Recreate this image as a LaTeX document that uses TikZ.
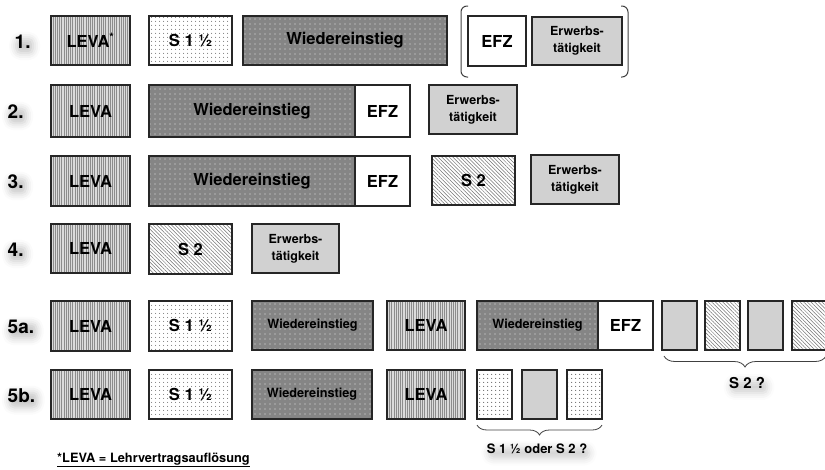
\documentclass[tikz,border=0pt]{standalone}
\usepackage{fontspec}
\setmainfont{TeX Gyre Heros}
\usetikzlibrary{patterns.meta,shadows.blur,decorations.pathreplacing}
\newcommand\bx[7]{%
 \pgfmathsetmacro\bw{#4-#2}\pgfmathsetmacro\bh{#5-#3}%
 \pgfmathsetmacro\bcx{(#2+#4)/2}\pgfmathsetmacro\bcy{(#3+#5)/2}%
 \node[#6,minimum width=\bw pt,minimum height=\bh pt] (#1) at (\bcx,\bcy) {#7};}
\begin{document}
\begin{tikzpicture}[x=1pt,y=-1pt,
  box/.style={draw=black!85,line width=1.1pt,inner sep=0pt,align=center},
  big/.style={font=\fontsize{16.5}{18}\selectfont\bfseries},
  mid/.style={font=\fontsize{12.7}{15}\selectfont\bfseries},
  erwfont/.style={font=\fontsize{12.5}{17}\selectfont\bfseries},
  leva/.style={box,big,preaction={fill=black!14},pattern={Lines[angle=90,distance=2.2pt,line width=0.55pt]},pattern color=black!45},
  dotbox/.style={box,big,preaction={fill=white},pattern={Dots[distance=4pt,radius=0.6pt]},pattern color=black!80},
  wieder/.style={box,preaction={fill=black!48},pattern={Dots[distance=5pt,radius=0.7pt]},pattern color=black!10},
  hatch/.style={box,big,preaction={fill=white},pattern={Lines[angle=-45,distance=2.6pt,line width=0.5pt]},pattern color=black!55},
  plain/.style={box,big,fill=white},
  erw/.style={box,erwfont,fill=black!18},
  rowlab/.style={font=\fontsize{19}{20}\selectfont\bfseries,inner sep=0.5pt,anchor=west,rounded corners=5pt,
     blur shadow={shadow xshift=2pt,shadow yshift=-4pt,shadow blur radius=7pt,shadow opacity=22}},
  qlab/.style={font=\fontsize{15}{17}\selectfont\bfseries,inner sep=0.5pt,rounded corners=5pt,
     blur shadow={shadow xshift=2pt,shadow yshift=-4pt,shadow blur radius=7pt,shadow opacity=18}},
  bracefig/.style={draw=black!75,line width=0.8pt,decorate,decoration={brace,mirror,amplitude=11pt}},
  brk/.style={draw=black!75,line width=1pt,rounded corners=6pt}
]
\useasboundingbox (0,0) rectangle (825,469);
\clip (0,0) rectangle (825,469);

% row labels
\node[rowlab] (n1) at (14,42) {1.};
\node[rowlab] (n2) at (7,112) {2.};
\node[rowlab] (n3) at (7,182) {3.};
\node[rowlab] (n4) at (7,250) {4.};
\node[rowlab] (n5a) at (7,327) {5a.};
\node[rowlab] (n5b) at (7,396) {5b.};

% row 1
\bx{l1}{51}{16}{130}{65}{leva}{LEVA\textsuperscript{*}}
\bx{s1}{149}{16}{232}{65}{dotbox}{S 1 ½}
\bx{w1}{243}{16}{447}{65}{wieder,big}{Wiedereinstieg}
\bx{e1}{468}{16}{526}{66}{plain}{EFZ}
\bx{t1}{532}{17}{622}{65}{erw}{Erwerbs-\\tätigkeit}
\draw[brk] (468,6) -- (461,6) -- (461,77) -- (468,77);
\draw[brk] (621,6) -- (628,6) -- (628,77) -- (621,77);

% row 2
\bx{l2}{51}{85}{130}{137}{leva}{LEVA}
\bx{w2}{149}{85}{355}{137}{wieder,big}{Wiedereinstieg}
\bx{e2}{355}{85}{410}{137}{plain}{EFZ}
\bx{t2}{429}{85}{517}{134}{erw}{Erwerbs-\\tätigkeit}

% row 3
\bx{l3}{51}{156}{130}{206}{leva}{LEVA}
\bx{w3}{149}{156}{355}{206}{wieder,big}{Wiedereinstieg}
\bx{e3}{355}{156}{410}{206}{plain}{EFZ}
\bx{s3}{432}{156}{515}{205}{hatch}{S 2}
\bx{t3}{531}{155}{619}{204}{erw}{Erwerbs-\\tätigkeit}

% row 4
\bx{l4}{51}{224}{130}{273}{leva}{LEVA}
\bx{s4}{149}{224}{232}{274}{hatch}{S 2}
\bx{t4}{252}{224}{339}{273}{erw}{Erwerbs-\\tätigkeit}

% row 5a
\bx{l5}{51}{301}{130}{351}{leva}{LEVA}
\bx{s5}{149}{301}{232}{351}{dotbox}{S 1 ½}
\bx{w5}{252}{301}{373}{350}{wieder,mid}{Wiedereinstieg}
\bx{l5b}{387}{301}{465}{350}{leva}{LEVA}
\bx{w5b}{477}{301}{598}{350}{wieder,mid}{Wiedereinstieg}
\bx{e5}{598}{301}{653}{350}{plain}{EFZ}
\bx{q1}{662}{301}{697}{350}{erw}{}
\bx{q2}{705}{301}{740}{350}{hatch}{}
\bx{q3}{748}{301}{783}{350}{erw}{}
\bx{q4}{792}{301}{830}{350}{hatch}{}
\coordinate (b1a) at (664,356);
\coordinate (b1b) at (826,356);
\draw[bracefig] (b1a) -- (b1b);
\node[qlab] (lab1) at (747,383) {S 2 ?};

% row 5b
\bx{l6}{51}{370}{130}{419}{leva}{LEVA}
\bx{s6}{149}{370}{232}{419}{dotbox}{S 1 ½}
\bx{w6}{252}{370}{372}{419}{wieder,mid}{Wiedereinstieg}
\bx{l6b}{387}{370}{465}{419}{leva}{LEVA}
\bx{r1}{477}{370}{512}{419}{dotbox}{}
\bx{r2}{522}{370}{557}{419}{erw}{}
\bx{r3}{567}{370}{602}{419}{dotbox}{}
\coordinate (b2a) at (477,425);
\coordinate (b2b) at (602,425);
\draw[bracefig,decoration={amplitude=10pt}] (b2a) -- (b2b);
\node[qlab,font=\fontsize{13}{15}\selectfont\bfseries] (lab2) at (537,449) {S 1 ½ oder S 2 ?};

% footnote
\node[anchor=west,inner sep=0pt,font=\fontsize{12.8}{14}\selectfont\bfseries] (fn) at (57,460) {\underline{*LEVA = Lehrvertragsauflösung}};
\end{tikzpicture}
\end{document}
